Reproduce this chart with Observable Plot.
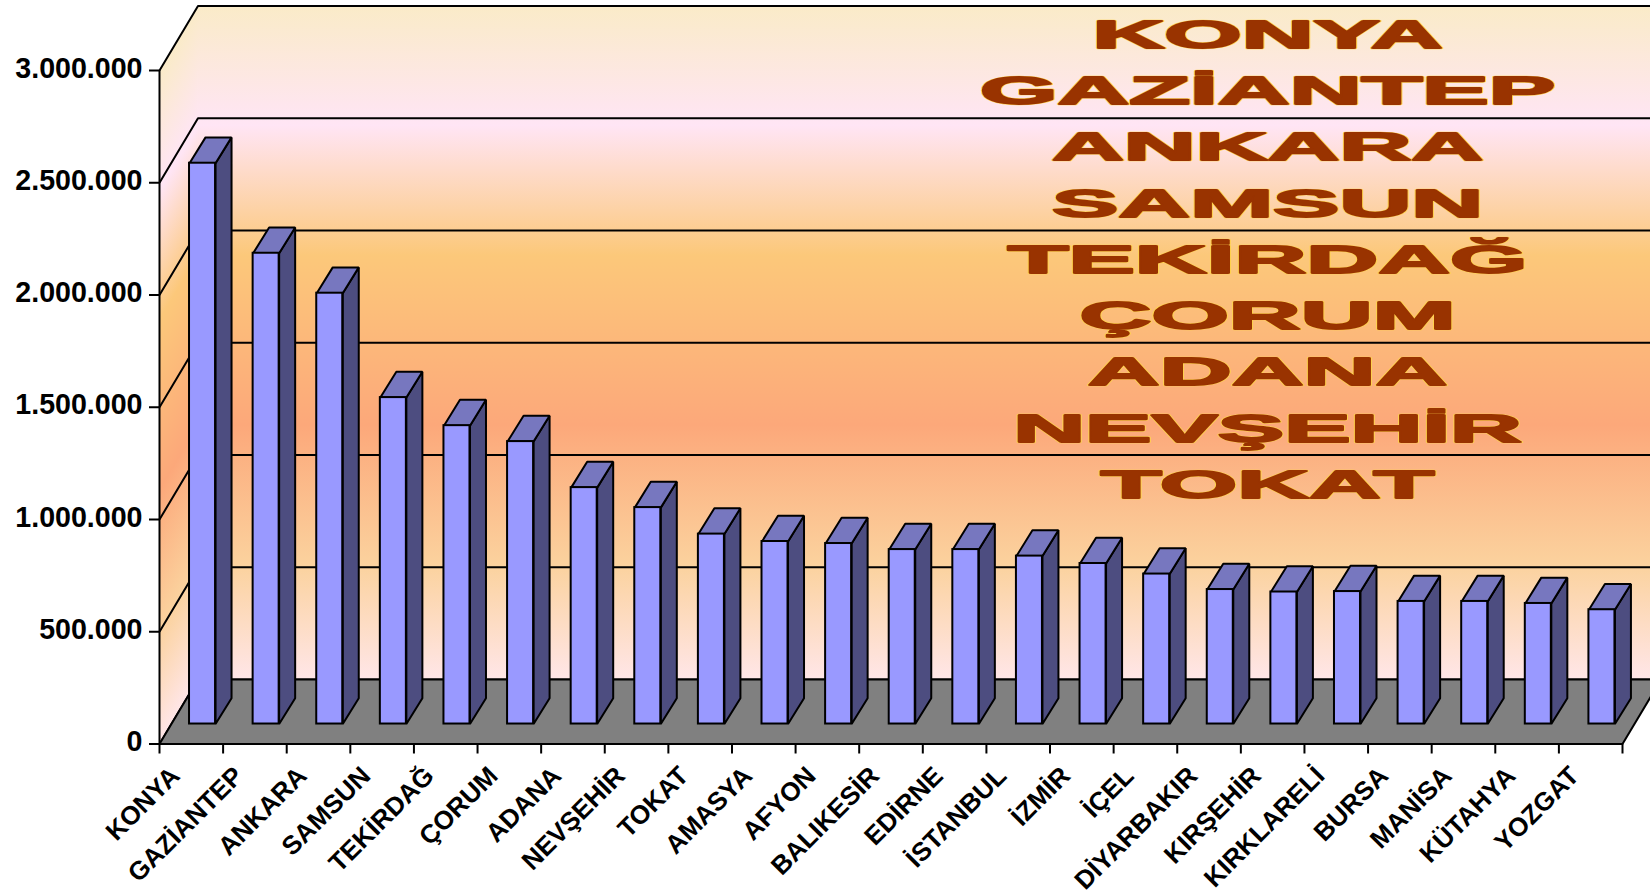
<!DOCTYPE html>
<html lang="tr">
<head>
<meta charset="utf-8">
<title>İller</title>
<script src="https://cdn.jsdelivr.net/npm/d3@7"></script>
<script src="https://cdn.jsdelivr.net/npm/@observablehq/plot@0.6"></script>
<style>
  html, body { margin: 0; padding: 0; background: #fff; overflow: hidden; }
  svg { display: block; }
</style>
</head>
<body>
<div id="chart"></div>
<script>
const provinces = ["KONYA","GAZİANTEP","ANKARA","SAMSUN","TEKİRDAĞ","ÇORUM","ADANA","NEVŞEHİR","TOKAT","AMASYA","AFYON","BALIKESİR","EDİRNE","İSTANBUL","İZMİR","İÇEL","DİYARBAKIR","KIRŞEHİR","KIRKLARELİ","BURSA","MANİSA","KÜTAHYA","YOZGAT"];
const values = [2498000,2097000,1919000,1454000,1329000,1258000,1053000,964000,846000,813000,804000,777000,777000,748000,715000,668000,599000,588000,590000,546000,546000,537000,509000];
const yTicks = [0,500000,1000000,1500000,2000000,2500000,3000000];
const topCount = 9;

// 3-D projection expressed in scale units
const floorDx = 0.605, floorDy = 287000;   // depth of the chart box
const barDx = 0.2516, barDy = 115000;      // depth of one bar
const barStart = 0.472, barWidth = 0.409, barBase = 89000;
const n = provinces.length;
const wallEnd = n + 2;
const wallTop = 3000000 + floorDy;

const bars = values.map((v, i) => ({i, x1: i + barStart, x2: i + barStart + barWidth, y1: barBase, y2: barBase + v}));
const poly = (id, pts) => pts.map(([x, y]) => ({id, x, y}));
const closed = (id, pts) => poly(id, [...pts, pts[0]]);

const sideFaces = bars.flatMap(b => closed(b.i, [[b.x2,b.y1],[b.x2+barDx,b.y1+barDy],[b.x2+barDx,b.y2+barDy],[b.x2,b.y2]]));
const topFaces = bars.flatMap(b => closed(b.i, [[b.x1,b.y2],[b.x2,b.y2],[b.x2+barDx,b.y2+barDy],[b.x1+barDx,b.y2+barDy]]));
const backWall = closed("back", [[floorDx,floorDy],[wallEnd,floorDy],[wallEnd,wallTop],[floorDx,wallTop]]);
const leftWall = closed("left", [[0,0],[floorDx,floorDy],[floorDx,wallTop],[0,3000000]]);
const floor = closed("floor", [[0,0],[n,0],[n+floorDx,floorDy],[floorDx,floorDy]]);
const gridBack = yTicks.flatMap(t => poly(t, [[0,t],[floorDx,t+floorDy],[wallEnd,t+floorDy]]));

const fmt = d => d3.format(",")(d).replace(/,/g, ".");
const polyOpts = {x: "x", y: "y", z: "id", curve: "linear", strokeLinejoin: "miter", strokeLinecap: "butt"};

const gradStops = [[0,"#FAEBC8"],[0.177,"#FFE5F5"],[0.37,"#FCC87A"],[0.622,"#FCA87A"],[0.83,"#FBD29E"],[1,"#FFE6E8"]];
const stops = gradStops.map(([o,c]) => `<stop offset="${o}" stop-color="${c}"/>`).join("");
const gradients = () => {
  const s = d3.create("svg:defs");
  s.html(`<linearGradient id="wallBack" x1="0" x2="0" y1="0" y2="1">${stops}</linearGradient>
          <linearGradient id="wallLeft" gradientUnits="userSpaceOnUse" x1="159" x2="159" y1="70" y2="743.5"
            gradientTransform="translate(159 0) matrix(1 -1.675 0 1 0 0) translate(-159 0)">${stops}</linearGradient>`);
  return s.node();
};

// WordArt style: wide letters, drawn by stretching every label horizontally
const stretch = sx => (index, scales, values, dims, ctx, next) => {
  const g = next(index, scales, values, dims, ctx);
  g.querySelectorAll("text").forEach(t => t.setAttribute("transform", `${t.getAttribute("transform")||""} scale(${sx} 1)`));
  return g;
};
const wordArt = provinces.slice(0, topCount);
const wordX = 17.42;
const wordY = (d, i) => 3157000 - i * 250500;

const chart = Plot.plot({
  width: 1650, height: 895,
  marginLeft: 159, marginRight: 28, marginTop: 70, marginBottom: 151.5,
  style: {background: "#fff", fontFamily: "'Liberation Sans', Arial, sans-serif", color: "#000", overflow: "hidden"},
  x: {type: "linear", domain: [0, n], axis: null},
  y: {type: "linear", domain: [0, 3000000], axis: null},
  marks: [
    gradients,
    Plot.line(backWall, {...polyOpts, fill: "url(#wallBack)", stroke: "none"}),
    Plot.line(leftWall, {...polyOpts, fill: "url(#wallLeft)", stroke: "none"}),
    Plot.line(gridBack, {...polyOpts, stroke: "#000", strokeWidth: 2}),
    Plot.line(floor, {...polyOpts, fill: "#808080", stroke: "#000", strokeWidth: 2}),
    Plot.ruleX([0], {y1: 0, y2: 3000000, stroke: "#000", strokeWidth: 2}),
    Plot.text(wordArt, {
      x: () => wordX, y: wordY, text: d => d, fontSize: 39.5, fontWeight: "bold", textAnchor: "middle",
      fill: "#FFD24D", stroke: "#FFD24D", strokeWidth: 2.6, render: stretch(2.52)
    }),
    Plot.text(wordArt, {
      x: () => wordX, y: wordY, text: d => d, fontSize: 39.5, fontWeight: "bold", textAnchor: "middle",
      fill: "#993300", stroke: "#993300", strokeWidth: 1.8, render: stretch(2.52)
    }),
    Plot.line(sideFaces, {...polyOpts, fill: "#4D4D80", stroke: "#000", strokeWidth: 2}),
    Plot.line(topFaces, {...polyOpts, fill: "#7777BF", stroke: "#000", strokeWidth: 2}),
    Plot.rect(bars, {x1: "x1", x2: "x2", y1: "y1", y2: "y2", fill: "#9999FF", stroke: "#000", strokeWidth: 2}),
    Plot.axisY({
      ticks: yTicks, tickFormat: () => "", tickSize: 10, label: null,
      stroke: "#000", strokeWidth: 2
    }),
    Plot.axisY({
      ticks: yTicks, tickFormat: fmt, tickSize: 0, tickPadding: 17, dy: -2, label: null,
      fontSize: 28.6, fontWeight: "bold", fill: "#000"
    }),
    Plot.axisX({
      ticks: d3.range(n + 1), tickFormat: () => "", tickSize: 10, label: null,
      stroke: "#000", strokeWidth: 2
    }),
    Plot.text(provinces, {
      x: (d, i) => i + 0.5, y: () => 0, text: d => d, rotate: -45, textAnchor: "end",
      dx: -16, dy: 27.5, fontSize: 26, fontWeight: "bold", fill: "#000"
    })
  ]
});
document.getElementById("chart").appendChild(chart);
</script>
</body>
</html>
